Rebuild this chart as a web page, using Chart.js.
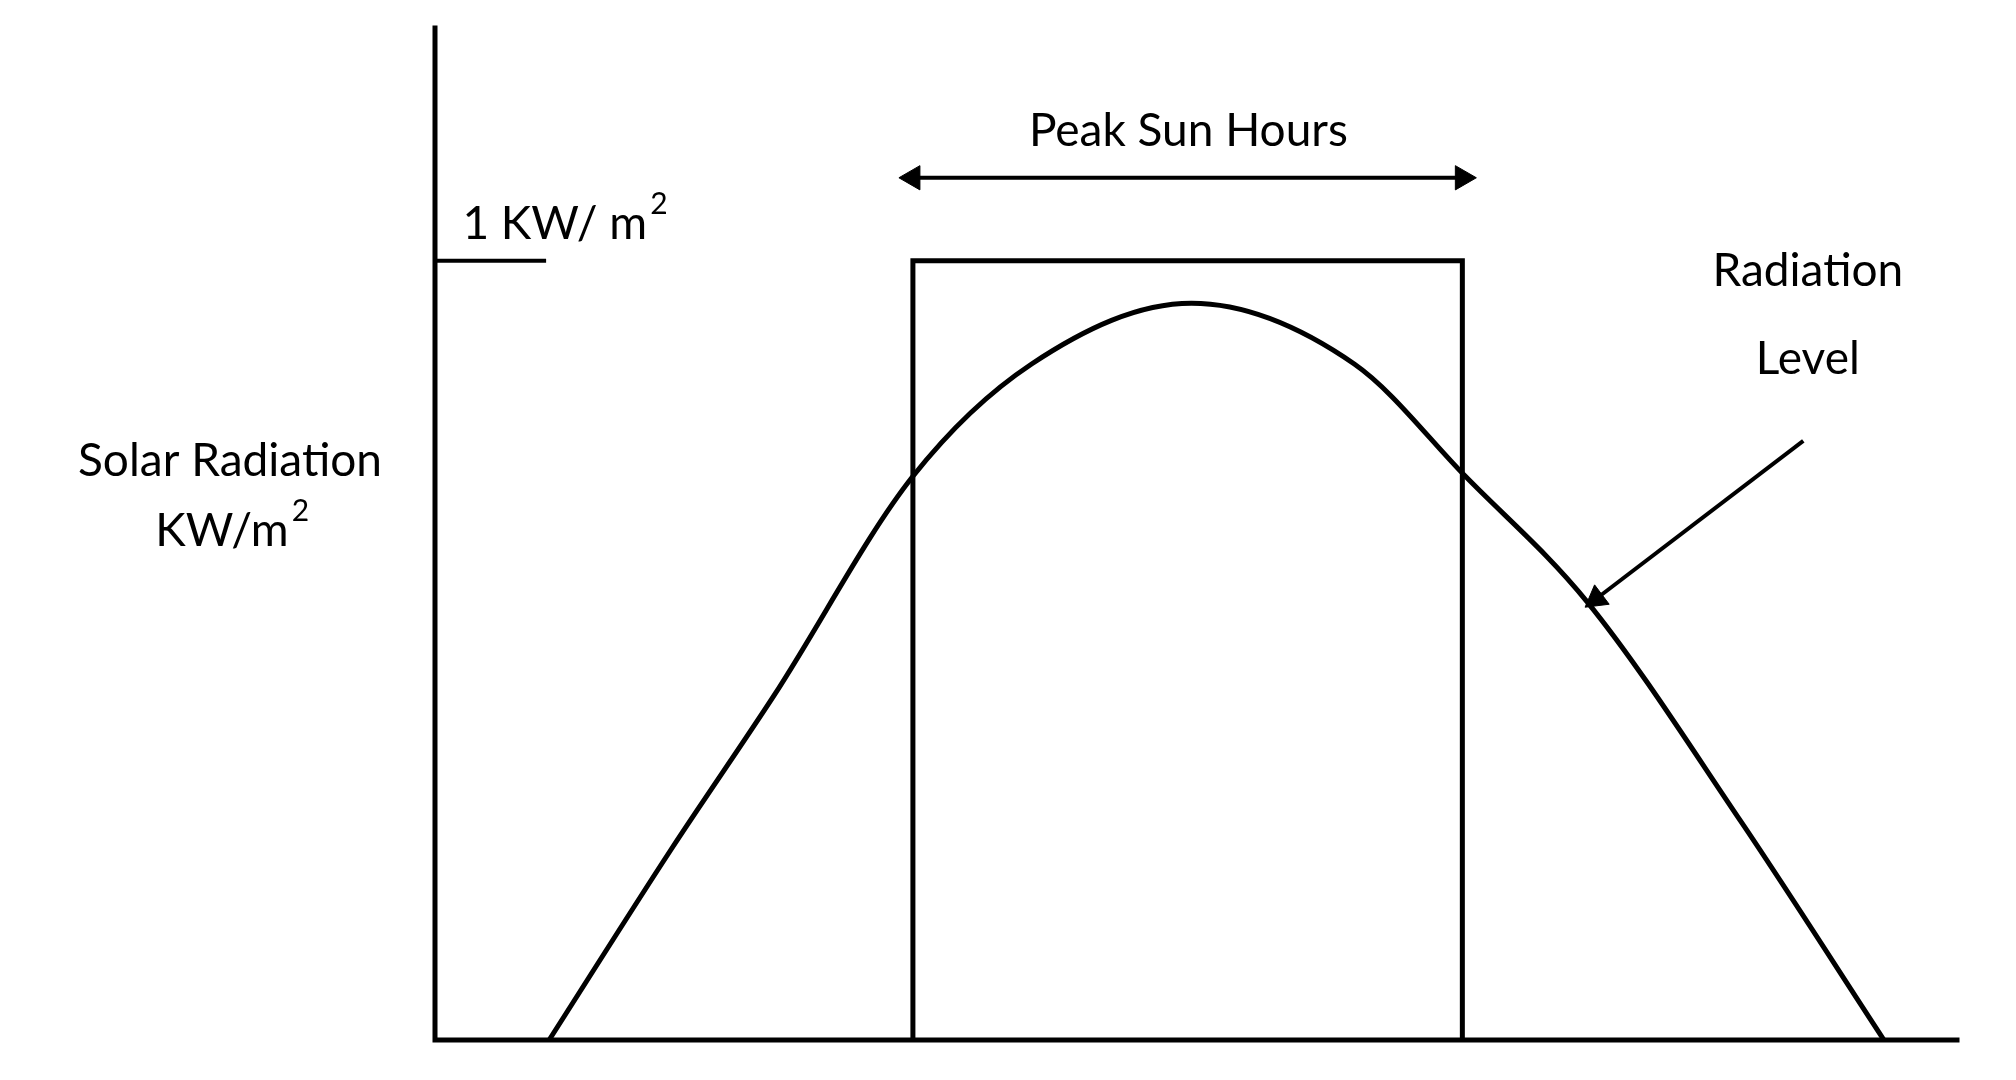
<!DOCTYPE html>
<html><head><meta charset="utf-8">
<script src="https://cdn.jsdelivr.net/npm/chart.js@4"></script>
<style>html,body{margin:0;background:#fff}#w{width:2016px;height:1080px}</style>
</head><body><div id="w"><canvas id="c"></canvas></div>
<script>
// Radiation curve (x: relative time 0-100, y: relative radiation 0-100)
const curveX = [7.5, 15.5, 22.3, 31.4, 39.2, 49.7, 60.4, 67.7, 75.7, 85.8, 95.2];
const curveY = [0, 18.8, 34.1, 55.7, 66.8, 72.8, 66.8, 55.7, 43.3, 21.6, 0];
// Peak sun hours box
const boxX = [31.4, 31.4, 67.5, 67.5];
const boxY = [0, 77, 77, 0];
const peakLevel = 77; // 1 KW/m2
const arrowX = [31.4, 67.5]; const arrowY = [85.2, 85.2];
const pointerX = [89.9, 76.3]; const pointerY = [59.2, 43.6];
const tickX = [0, 7.3];

const zip=(a,b)=>a.map((v,i)=>({x:v,y:b[i]}));
const F='Lato, "Open Sans", sans-serif';
const base={borderColor:'#000',borderWidth:5,pointRadius:0,fill:false,tension:0};
const textPlugin={id:'txt',afterDatasetsDraw(ch){
  const c=ch.ctx,x=ch.scales.x,y=ch.scales.y,a=ch.chartArea;
  c.save();c.strokeStyle='#000';c.lineWidth=5;c.lineCap='square';
  c.beginPath();c.moveTo(a.left,a.top);c.lineTo(a.left,a.bottom);c.lineTo(a.right,a.bottom);c.stroke();
  c.fillStyle='#000';c.textBaseline='middle';
  const t=(s,px,py,al,sup)=>{c.font='46px '+F;c.textAlign=al;
    let w=c.measureText(s).width;c.fillText(s,px,py);
    if(sup){let sx=al==='center'?px+w/2:(al==='left'?px+w:px);
      c.font='30px '+F;c.textAlign='left';c.fillText(sup,sx+3,py-20);}};
  t('Peak Sun Hours',x.getPixelForValue(49.5),y.getPixelForValue(89.8),'center');
  t('1 KW/ m',x.getPixelForValue(1.8),y.getPixelForValue(80.6),'left','2');
  t('Radiation',x.getPixelForValue(90.2),y.getPixelForValue(76),'center');
  t('Level',x.getPixelForValue(90.2),y.getPixelForValue(67.3),'center');
  t('Solar Radiation',230,y.getPixelForValue(57.2),'center');
  t('KW/m',222,y.getPixelForValue(50.3),'center','2');
  c.restore();}};
new Chart(document.getElementById('c'),{type:'scatter',
 data:{datasets:[
  {...base,showLine:true,data:zip(curveX,curveY),cubicInterpolationMode:'monotone'},
  {...base,showLine:true,data:zip(boxX,boxY)},
  {...base,showLine:true,data:zip(tickX,[peakLevel,peakLevel]),borderWidth:4},
  {...base,showLine:true,borderWidth:4,data:zip(arrowX,arrowY),pointStyle:'triangle',pointRadius:[14,14],pointRotation:[270,90],backgroundColor:'#000',pointBorderWidth:1},
  {...base,showLine:true,borderWidth:4,data:zip(pointerX,pointerY),pointStyle:'triangle',pointRadius:[0,14],pointRotation:[0,233],backgroundColor:'#000',pointBorderWidth:1}
 ]},
 options:{responsive:true,maintainAspectRatio:false,animation:false,
  layout:{padding:{left:435,right:59,top:28,bottom:40}},
  plugins:{legend:{display:false},tooltip:{enabled:false}},
  scales:{x:{type:'linear',min:0,max:100,display:false},y:{min:0,max:100,display:false}}},
 plugins:[textPlugin]});
</script></body></html>
